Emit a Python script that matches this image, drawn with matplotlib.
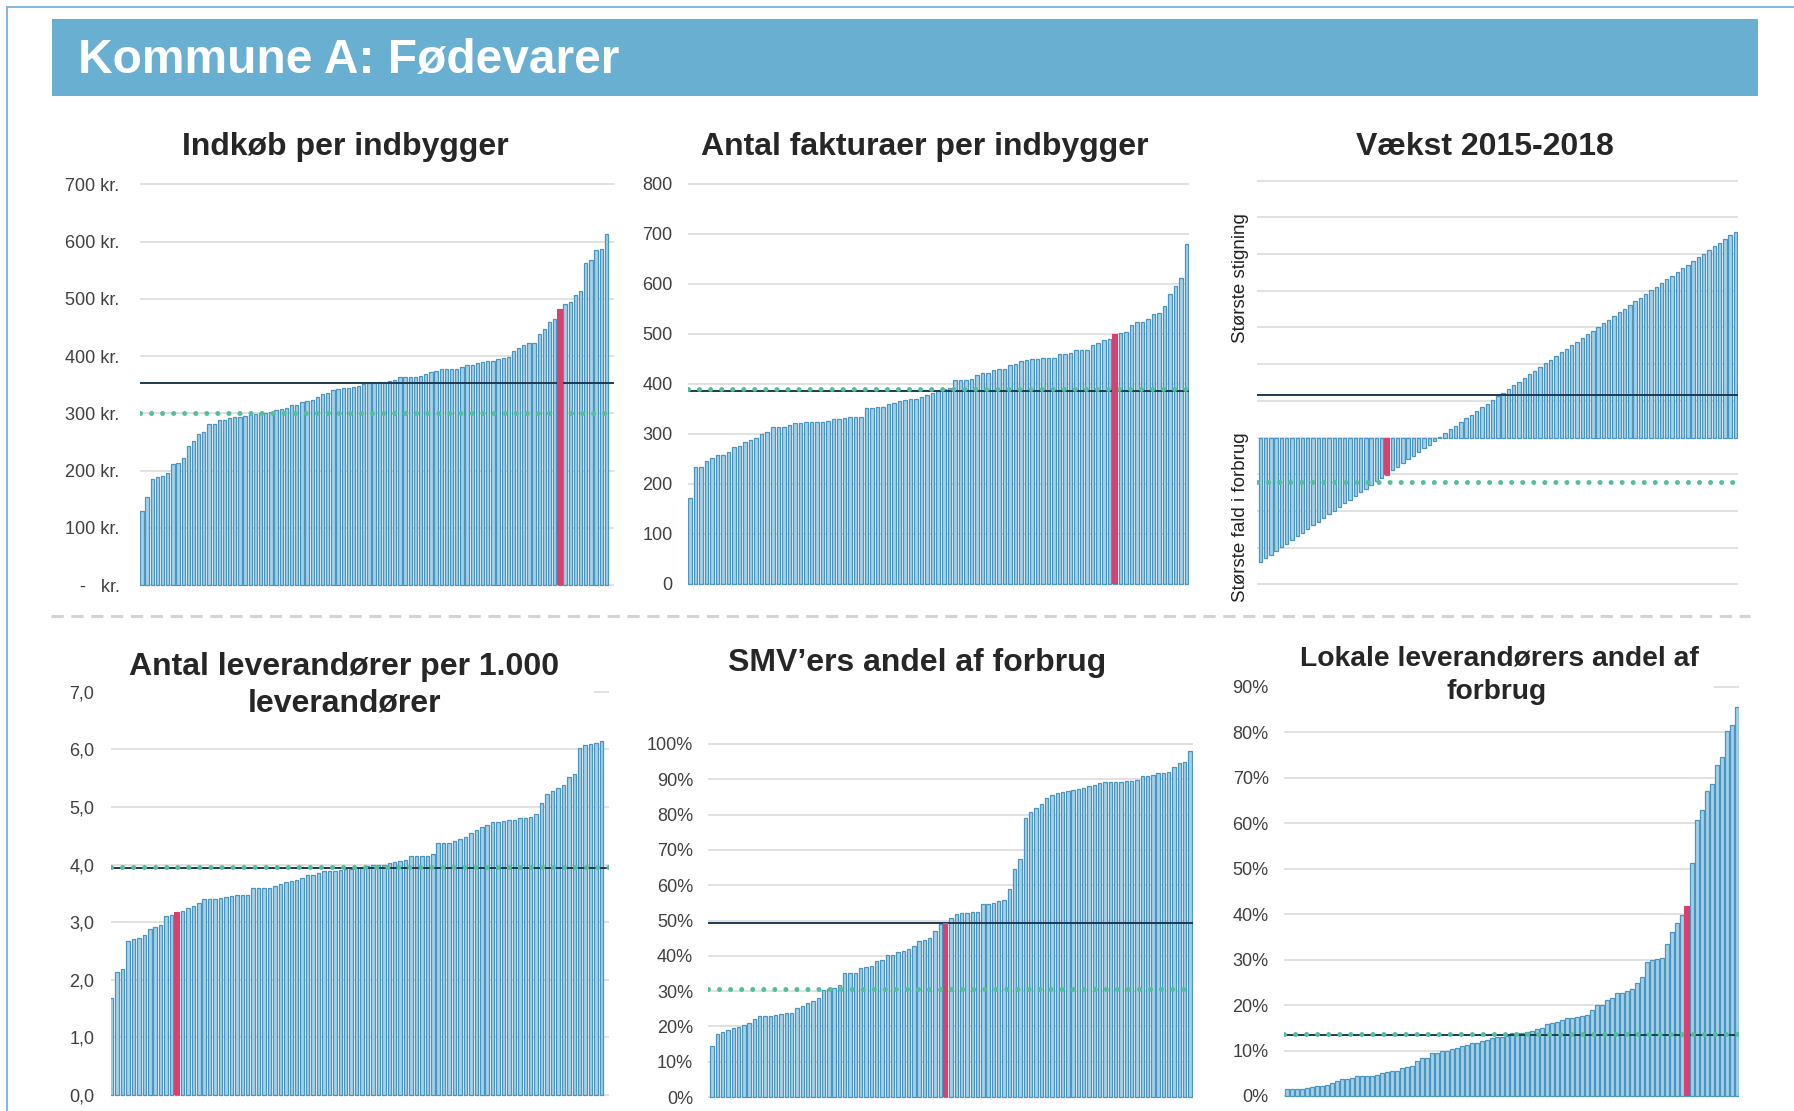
import matplotlib
matplotlib.use("Agg")
import matplotlib.pyplot as plt
from matplotlib.patches import Rectangle
from matplotlib.lines import Line2D

# ---------------- data ----------------
indkob = [129, 154, 186, 188, 190, 195, 211, 213, 222, 242,
          251, 264, 268, 281, 282, 288, 289, 291, 293, 294,
          295, 299, 299, 300, 301, 302, 306, 307, 310, 314,
          315, 320, 322, 323, 328, 333, 335, 340, 343, 345,
          345, 346, 347, 352, 353, 353, 354, 355, 357, 358,
          363, 363, 364, 364, 365, 368, 372, 373, 377, 377,
          377, 378, 381, 384, 385, 388, 389, 392, 392, 394,
          396, 399, 409, 414, 420, 422, 423, 438, 448, 460,
          465, 483, 491, 495, 506, 513, 563, 567, 585, 587, 613]
indkob_red = 81
indkob_black = 353
indkob_green = 301
indkob_ticks = [0, 100, 200, 300, 400, 500, 600, 700]
indkob_labels = ["-   kr.", "100 kr.", "200 kr.", "300 kr.", "400 kr.", "500 kr.", "600 kr.", "700 kr."]

fakturaer = [172, 234, 234, 246, 251, 257, 257, 263, 273, 275,
             283, 287, 291, 299, 304, 313, 313, 314, 317, 321,
             322, 323, 324, 324, 324, 326, 329, 329, 331, 333,
             333, 334, 351, 351, 353, 354, 359, 362, 366, 368,
             369, 369, 373, 378, 381, 386, 389, 391, 408, 408,
             408, 409, 418, 421, 422, 428, 429, 429, 438, 440,
             446, 448, 449, 450, 452, 452, 452, 459, 459, 461,
             468, 468, 468, 477, 481, 488, 490, 500, 501, 503,
             518, 523, 524, 529, 540, 541, 555, 580, 596, 612, 680]
fakturaer_red = 77
fakturaer_black = 385
fakturaer_green = 390
fakturaer_ticks = [0, 100, 200, 300, 400, 500, 600, 700, 800]
fakturaer_labels = ["0", "100", "200", "300", "400", "500", "600", "700", "800"]

vaekst = [-3.38, -3.29, -3.19, -3.08, -2.99, -2.89, -2.79, -2.69, -2.59, -2.49,
          -2.39, -2.29, -2.19, -2.09, -1.99, -1.89, -1.79, -1.69, -1.59, -1.49,
          -1.39, -1.29, -1.19, -1.10, -1.02, -0.89, -0.79, -0.69, -0.59, -0.49,
          -0.39, -0.29, -0.19, -0.09, 0.02, 0.12, 0.22, 0.32, 0.42, 0.52,
          0.62, 0.72, 0.82, 0.92, 1.02, 1.12, 1.22, 1.32, 1.42, 1.52,
          1.62, 1.72, 1.82, 1.92, 2.02, 2.12, 2.22, 2.32, 2.42, 2.52,
          2.61, 2.71, 2.81, 2.91, 3.01, 3.11, 3.21, 3.31, 3.41, 3.51,
          3.61, 3.71, 3.81, 3.91, 4.01, 4.11, 4.21, 4.31, 4.41, 4.51,
          4.61, 4.71, 4.81, 4.91, 5.01, 5.11, 5.21, 5.31, 5.41, 5.51, 5.59]
vaekst_red = 24
vaekst_black = 1.15
vaekst_green = -1.2
vaekst_ticks = [-4, -3, -2, -1, 0, 1, 2, 3, 4, 5, 6, 7]

leverandorer = [1.68, 2.14, 2.18, 2.68, 2.70, 2.72, 2.78, 2.88, 2.92, 2.95,
                3.11, 3.13, 3.18, 3.19, 3.24, 3.28, 3.33, 3.40, 3.40, 3.40,
                3.42, 3.44, 3.46, 3.47, 3.48, 3.48, 3.59, 3.59, 3.60, 3.60,
                3.63, 3.67, 3.70, 3.72, 3.73, 3.76, 3.81, 3.82, 3.85, 3.88,
                3.89, 3.89, 3.90, 3.92, 3.93, 3.95, 3.96, 3.97, 3.99, 3.99,
                4.00, 4.02, 4.05, 4.06, 4.08, 4.14, 4.15, 4.15, 4.15, 4.18,
                4.37, 4.38, 4.38, 4.40, 4.44, 4.47, 4.54, 4.60, 4.65, 4.69,
                4.73, 4.74, 4.76, 4.77, 4.78, 4.80, 4.80, 4.82, 4.88, 5.06,
                5.22, 5.28, 5.32, 5.38, 5.52, 5.58, 6.02, 6.07, 6.10, 6.11, 6.15]
leverandorer_red = 12
leverandorer_black = 3.94
leverandorer_green = 3.96
leverandorer_ticks = [0, 1, 2, 3, 4, 5, 6, 7]
leverandorer_labels = ["0,0", "1,0", "2,0", "3,0", "4,0", "5,0", "6,0", "7,0"]

smv = [14.4, 17.9, 18.5, 19.1, 19.6, 19.9, 20.3, 21.0, 22.0, 22.9,
       22.9, 22.9, 23.1, 23.4, 23.8, 23.8, 25.3, 25.9, 26.5, 27.3,
       28.1, 30.2, 30.6, 30.9, 31.6, 35.0, 35.0, 35.0, 36.6, 36.9,
       37.0, 38.6, 38.9, 40.2, 40.3, 41.0, 41.3, 42.0, 42.7, 44.1,
       44.6, 45.1, 47.0, 48.9, 49.4, 50.7, 51.7, 52.1, 52.1, 52.4,
       52.4, 54.8, 54.8, 54.9, 55.4, 55.9, 58.9, 64.6, 67.4, 79.0,
       80.6, 81.9, 83.0, 84.6, 85.6, 86.1, 86.5, 86.8, 87.0, 87.2,
       87.5, 88.1, 88.4, 88.9, 89.1, 89.3, 89.3, 89.3, 89.5, 89.6,
       89.8, 90.8, 91.0, 91.2, 91.7, 91.9, 92.2, 93.6, 94.5, 95.0, 98.1]
smv_red = 44
smv_black = 49.2
smv_green = 30.7
smv_ticks = [0, 10, 20, 30, 40, 50, 60, 70, 80, 90, 100]
smv_labels = ["0%", "10%", "20%", "30%", "40%", "50%", "60%", "70%", "80%", "90%", "100%"]

lokale = [1.5, 1.5, 1.5, 1.6, 1.8, 1.9, 2.2, 2.3, 2.4, 2.8,
          3.4, 3.8, 3.8, 4.0, 4.3, 4.5, 4.5, 4.5, 4.6, 5.0,
          5.3, 5.4, 5.6, 6.1, 6.3, 6.6, 7.6, 8.3, 8.4, 9.4,
          9.5, 9.8, 10.0, 10.3, 10.6, 10.9, 11.2, 11.7, 11.7, 12.0,
          12.3, 12.7, 12.9, 13.0, 13.2, 13.8, 13.8, 13.9, 14.1, 14.3,
          14.7, 14.9, 15.8, 16.1, 16.3, 16.7, 17.1, 17.2, 17.4, 17.6,
          17.8, 18.9, 19.9, 20.0, 21.1, 21.5, 22.7, 22.7, 23.1, 23.5,
          24.9, 26.2, 29.5, 29.9, 30.1, 30.3, 33.4, 36.0, 38.0, 39.8,
          41.8, 51.3, 60.6, 62.8, 67.1, 68.5, 72.8, 74.5, 80.3, 81.6, 85.5]
lokale_red = 80
lokale_black = 13.4
lokale_green = 13.7
lokale_ticks = [0, 10, 20, 30, 40, 50, 60, 70, 80, 90]
lokale_labels = ["0%", "10%", "20%", "30%", "40%", "50%", "60%", "70%", "80%", "90%"]

# ---------------- styling ----------------
W, H = 1794, 1111
plt.rcParams["font.family"] = ["Liberation Sans", "DejaVu Sans"]
fig = plt.figure(figsize=(W / 100, H / 100), dpi=100)

BAR_FACE = "#a2d1e9"
BAR_EDGE = "#4b95c0"
RED = "#d8406f"
BLACK = "#1d3a55"
GREEN = "#52c09a"
GRID = "#dcdcdc"
TICK = "#404040"
TITLE = "#262626"


def fx(x):
    return x / W


def fy(y):
    return 1 - y / H


# frame lines and banner
fig.add_artist(Line2D([fx(7), fx(7)], [0, fy(7)], color="#7fbadb", lw=1.4))
fig.add_artist(Line2D([fx(7), 1], [fy(7), fy(7)], color="#7fbadb", lw=1.4))
fig.add_artist(Rectangle((fx(51.5), fy(95.7)), fx(1757.7 - 51.5), (95.7 - 19.3) / H,
                         transform=fig.transFigure, facecolor="#68afd2", edgecolor="none"))
fig.text(fx(78), fy(73.5), "Kommune A: Fødevarer", color="white", fontsize=34.5,
         fontweight="bold", ha="left", va="baseline")

# dashed separator
fig.add_artist(Line2D([fx(51), fx(1750)], [fy(615.5), fy(615.5)], color="#d4d4d4",
                      lw=2.2, linestyle=(0, (4, 2.5))))


def panel(L, R, x0, x1, vtop, ptop, vbot, pbot, values, red_idx, black, green,
          ticks, labels, pad):
    T, B = ptop - 4, pbot + 4
    ax = fig.add_axes([fx(L), fy(B), (R - L) / W, (B - T) / H])
    n = len(values)
    sx = (x1 - x0) / (n - 1)
    ax.set_xlim((L - x0) / sx, (R - x0) / sx)
    sy = (pbot - ptop) / (vtop - vbot)
    ax.set_ylim(vbot - (B - pbot) / sy, vtop + (ptop - T) / sy)
    ax.patch.set_alpha(0)
    ax.bar(range(n), values, width=0.64, facecolor=BAR_FACE, edgecolor=BAR_EDGE,
           linewidth=0.9, zorder=2)
    if black is not None:
        ax.axhline(black, color=BLACK, lw=1.4, zorder=3)
    if green is not None:
        ax.axhline(green, color=GREEN, lw=3.6, linestyle=(0, (0.01, 2.2)),
                   dash_capstyle="round", zorder=4)
    ax.bar([red_idx], [values[red_idx]], width=1.05, color=RED, zorder=5)
    ax.set_yticks(ticks)
    ax.set_yticklabels(labels)
    ax.set_xticks([])
    ax.grid(axis="y", color=GRID, lw=1.2, zorder=0)
    ax.set_axisbelow(True)
    for s in ax.spines.values():
        s.set_visible(False)
    ax.tick_params(axis="y", length=0, pad=pad, labelsize=13, labelcolor=TICK)
    return ax


# Row 1
panel(140.3, 614, 141.9, 606.4, 700, 184.3, 0, 585.0, indkob, indkob_red,
      indkob_black, indkob_green, indkob_ticks, indkob_labels, pad=15)
panel(688, 1189, 690, 1186.5, 800, 184.0, 0, 583.5, fakturaer, fakturaer_red,
      fakturaer_black, fakturaer_green, fakturaer_ticks, fakturaer_labels, pad=11)
ax3 = panel(1257, 1738, 1260.3, 1735.4, 7, 180.7, -4, 584.3, vaekst, vaekst_red,
            vaekst_black, vaekst_green, vaekst_ticks, [""] * len(vaekst_ticks), pad=0)
fig.text(fx(1240), fy(278), "Største stigning", rotation=90, ha="center", va="center",
         fontsize=13.5, color="#222222")
fig.text(fx(1240), fy(517), "Største fald i forbrug", rotation=90, ha="center",
         va="center", fontsize=13.5, color="#222222")

# Row 2
panel(110.8, 609, 111.7, 601.5, 7, 691.7, 0, 1095.0, leverandorer, leverandorer_red,
      leverandorer_black, leverandorer_green, leverandorer_ticks, leverandorer_labels,
      pad=12)
panel(708.4, 1193, 712, 1190, 100, 744.0, 0, 1097.0, smv, smv_red,
      smv_black, smv_green, smv_ticks, smv_labels, pad=11)
panel(1284, 1739, 1287, 1737, 90, 686.7, 0, 1096.0, lokale, lokale_red,
      lokale_black, lokale_green, lokale_ticks, lokale_labels, pad=11)

# white boxes behind two-line titles (they hide the top gridline)
for (x0b, y0b, x1b, y1b) in [(105, 640, 594, 716), (1280, 636, 1714, 712)]:
    fig.add_artist(Rectangle((fx(x0b), fy(y1b)), (x1b - x0b) / W, (y1b - y0b) / H,
                             transform=fig.transFigure, facecolor="white",
                             edgecolor="none", zorder=10))

# panel titles: (x, baseline y, text, size)
titles = [
    (345.5, 155, "Indkøb per indbygger", 23),
    (925, 155, "Antal fakturaer per indbygger", 23),
    (1485, 155, "Vækst 2015-2018", 23),
    (344, 674.5, "Antal leverandører per 1.000", 23),
    (344, 711, "leverandører", 23),
    (917, 671, "SMV’ers andel af forbrug", 23),
    (1499, 666, "Lokale leverandørers andel af", 20.3),
    (1497, 699, "forbrug", 20.3),
]
for x, y, t, s in titles:
    fig.text(fx(x), fy(y), t, ha="center", va="baseline", fontsize=s,
             fontweight="bold", color=TITLE, zorder=11)

fig.savefig("out.png", dpi=100)
